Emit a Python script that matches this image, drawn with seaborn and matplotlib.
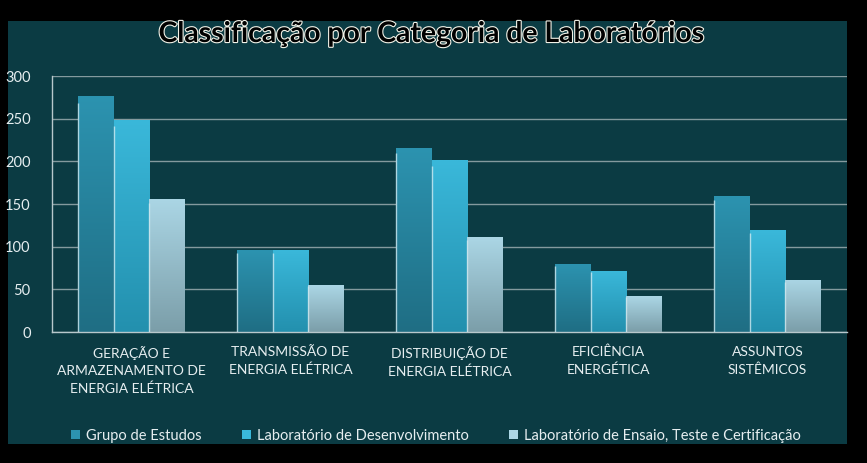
import numpy as np
import pandas as pd
import matplotlib
matplotlib.use("Agg")
import matplotlib.pyplot as plt
import matplotlib.patheffects as pe
from matplotlib.colors import LinearSegmentedColormap
from matplotlib.patches import Rectangle
import seaborn as sns

categories = [
    "GERAÇÃO E\nARMAZENAMENTO DE\nENERGIA ELÉTRICA",
    "TRANSMISSÃO DE\nENERGIA ELÉTRICA",
    "DISTRIBUIÇÃO DE\nENERGIA ELÉTRICA",
    "EFICIÊNCIA\nENERGÉTICA",
    "ASSUNTOS\nSISTÊMICOS",
]
series_names = [
    "Grupo de Estudos",
    "Laboratório de Desenvolvimento",
    "Laboratório de Ensaio, Teste e Certificação",
]
grupo_estudos = [277, 96, 216, 80, 159]
lab_desenvolvimento = [249, 96, 201, 72, 119]
lab_ensaio = [156, 55, 111, 42, 61]
yticks = [0, 50, 100, 150, 200, 250, 300]
title = "Classificação por Categoria de Laboratórios"

# colours (top, bottom) of each series' gradient
grad_colors = [
    ("#2c93b0", "#1f6e84"),
    ("#3ab8da", "#2390ae"),
    ("#abd6e5", "#7b9ea9"),
]
base_colors = [c[0] for c in grad_colors]

df = pd.DataFrame({
    "cat": categories * 3,
    "series": [series_names[0]] * 5 + [series_names[1]] * 5 + [series_names[2]] * 5,
    "value": grupo_estudos + lab_desenvolvimento + lab_ensaio,
})

sns.set_theme(style="white")
plt.rcParams["font.family"] = ["Lato", "DejaVu Sans"]

W, H = 867, 463
fig = plt.figure(figsize=(W / 100, H / 100), dpi=100)
fig.patch.set_facecolor("black")

panel_color = "#0b3b43"
fig.patches.append(Rectangle((8 / W, 1 - 444 / H), (847 - 8) / W, (444 - 21) / H,
                             transform=fig.transFigure, facecolor=panel_color,
                             edgecolor="none", zorder=-5))

ax = fig.add_axes([52 / W, 1 - 332 / H, (847 - 52) / W, (332 - 76) / H])
ax.set_facecolor("none")
ax.set_zorder(2)

sns.barplot(data=df, x="cat", y="value", hue="series", palette=base_colors,
            width=0.67, gap=0, ax=ax, legend=True, saturation=1,
            linewidth=0, edgecolor="none")

# gradient fills clipped to each bar
for cont, (top, bot) in zip(ax.containers, grad_colors):
    cmap = LinearSegmentedColormap.from_list("g", [bot, top])
    for bar in cont:
        x0, y0 = bar.get_x(), bar.get_y()
        w, h = bar.get_width(), bar.get_height()
        grad = np.linspace(0, 1, 128).reshape(-1, 1)
        im = ax.imshow(grad, extent=[x0, x0 + w, y0, y0 + h], origin="lower",
                       cmap=cmap, aspect="auto", zorder=2.5, interpolation="bilinear")
        im.set_clip_path(bar)
        ax.vlines(x0, y0, y0 + h * 0.97, color="#cfe9f0", lw=1.0, zorder=3, alpha=0.8)

ax.set_xlim(-0.5, len(categories) - 0.5)
ax.set_ylim(0, 300)
ax.set_yticks(yticks)
ax.set_yticklabels([str(v) for v in yticks])

grid_c = "#849a9e"
ax.grid(axis="y", color=grid_c, lw=1.0, zorder=1)
ax.set_axisbelow(True)
for s in ["top", "right"]:
    ax.spines[s].set_visible(False)
for s in ["left", "bottom"]:
    ax.spines[s].set_color("#b8c8cc")
    ax.spines[s].set_linewidth(1.0)

text_c = "#e6eef0"
ax.tick_params(axis="y", length=6, width=1, color="#b8c8cc", labelsize=10.5,
               labelcolor=text_c, pad=9.4, direction="out")
ax.set_xticks(np.arange(-0.5, len(categories), 1.0), minor=True)
ax.tick_params(axis="x", which="minor", length=6, width=1, color="#b8c8cc", direction="out")
ax.tick_params(axis="x", which="major", length=0, pad=10, labelsize=10, labelcolor=text_c)
for lbl in ax.get_xticklabels():
    lbl.set_linespacing(1.5)
    lbl.set_va("top")
ax.set_xlabel("")
ax.set_ylabel("")

# legend
leg = ax.get_legend()
handles = leg.legend_handles
leg.remove()
for hnd in handles:
    hnd.set_edgecolor("none")
    hnd.set_linewidth(0)
fig.legend(handles, series_names, loc="center", bbox_to_anchor=(436 / W, 1 - 436 / H),
           ncol=3, frameon=False, fontsize=10.5, labelcolor=text_c,
           handlelength=0.6, handleheight=0.6, handletextpad=0.4, columnspacing=2.8)

fig.text(432 / W, 1 - 34 / H, title, ha="center", va="center", fontsize=20.4,
         fontweight="bold", color="black",
         path_effects=[pe.withStroke(linewidth=1.6, foreground="#f2f2e8")])

fig.savefig("out.png", dpi=100, facecolor=fig.get_facecolor())
